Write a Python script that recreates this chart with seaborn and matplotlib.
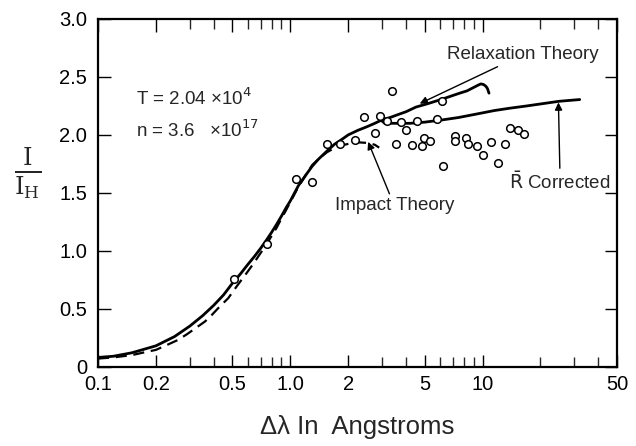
import numpy as np
import pandas as pd
import matplotlib
matplotlib.use('Agg')
import matplotlib.pyplot as plt
from matplotlib import font_manager
import seaborn as sns

# solid curve up to the split, continuing as the relaxation-theory branch
relax_x = [0.1, 0.12, 0.15, 0.2, 0.25, 0.3, 0.35, 0.4, 0.45, 0.5, 0.55, 0.6, 0.65,
           0.7, 0.75, 0.8, 0.85, 0.9, 0.95, 1.0, 1.1, 1.2, 1.3, 1.4, 1.55, 1.7, 1.85,
           2.0, 2.25, 2.5, 2.75, 3.0, 3.3, 3.7, 4.0, 4.5, 5.2, 6.2, 7.0, 7.6, 8.3,
           9.0, 9.5, 9.8, 10.1, 10.4, 10.6, 10.8]
relax_y = [0.08, 0.09, 0.12, 0.18, 0.26, 0.35, 0.44, 0.53, 0.62, 0.72, 0.80, 0.88,
           0.95, 1.02, 1.09, 1.16, 1.23, 1.30, 1.37, 1.43, 1.56, 1.65, 1.73, 1.79,
           1.86, 1.92, 1.96, 2.00, 2.04, 2.07, 2.10, 2.13, 2.15, 2.18, 2.20, 2.24,
           2.27, 2.31, 2.34, 2.36, 2.38, 2.41, 2.43, 2.44, 2.435, 2.42, 2.40, 2.36]

# R-bar corrected branch
rcorr_x = [3.0, 3.1, 3.5, 4.2, 5.0, 6.2, 7.5, 9.3, 11.5, 13.8, 17.0, 20.6, 25.0, 32.0]
rcorr_y = [2.12, 2.10, 2.10, 2.10, 2.11, 2.13, 2.15, 2.18, 2.21, 2.23, 2.25, 2.27,
           2.29, 2.305]

# impact theory (dashed)
impact_x = [0.1, 0.12, 0.15, 0.17, 0.2, 0.23, 0.26, 0.29, 0.32, 0.36, 0.39, 0.43,
            0.475, 0.53, 0.6, 0.65, 0.7, 0.75, 0.8, 0.85, 0.9, 0.95, 1.0, 1.1, 1.2,
            1.3, 1.42, 1.55, 1.67, 1.85, 2.1, 2.3, 2.55, 2.75, 2.9]
impact_y = [0.07, 0.08, 0.10, 0.12, 0.145, 0.19, 0.23, 0.28, 0.33, 0.39, 0.445, 0.52,
            0.59, 0.70, 0.82, 0.90, 0.98, 1.05, 1.13, 1.20, 1.28, 1.35, 1.42, 1.55,
            1.65, 1.74, 1.80, 1.85, 1.88, 1.91, 1.93, 1.935, 1.93, 1.915, 1.89]

# measured points
obs_x = [0.51, 0.76, 1.07, 1.30, 1.56, 1.81, 2.17, 2.42, 2.75, 2.94, 3.20, 3.38, 3.56,
         3.78, 4.00, 4.31, 4.58, 4.82, 4.94, 5.32, 5.79, 6.15, 6.19, 7.21, 7.21, 8.18,
         8.43, 9.31, 10.1, 11.0, 12.0, 13.1, 13.9, 15.2, 16.5]
obs_y = [0.76, 1.06, 1.62, 1.595, 1.92, 1.92, 1.96, 2.155, 2.02, 2.16, 2.12, 2.38, 1.92,
         2.11, 2.04, 1.91, 2.12, 1.90, 1.97, 1.95, 2.14, 2.29, 1.73, 1.99, 1.95, 1.97,
         1.92, 1.90, 1.83, 1.94, 1.76, 1.92, 2.06, 2.04, 2.01]

xtick_vals = [0.1, 0.2, 0.5, 1.0, 2, 5, 10, 50]
xtick_labels = ['0.1', '0.2', '0.5', '1.0', '2', '5', '10', '50']
ytick_vals = [0, 0.5, 1.0, 1.5, 2.0, 2.5, 3.0]
ytick_labels = ['0', '0.5', '1.0', '1.5', '2.0', '2.5', '3.0']

sns.set_style('ticks')
plt.rcParams['font.family'] = ['Liberation Sans', 'DejaVu Sans']

installed = {f.name for f in font_manager.fontManager.ttflist}
if 'Liberation Sans Narrow' in installed:
    tick_font = {'family': 'Liberation Sans Narrow', 'size': 15.5}
else:
    tick_font = {'family': 'Liberation Sans', 'size': 14.5}

fig = plt.figure(figsize=(6.36, 4.46), dpi=100)
ax = fig.add_axes([0.1541, 0.1778, 0.8160, 0.7796])

sns.lineplot(x=relax_x, y=relax_y, ax=ax, color='black', lw=2.0,
             estimator=None, sort=False)
sns.lineplot(x=rcorr_x, y=rcorr_y, ax=ax, color='black', lw=2.0,
             estimator=None, sort=False)
sns.lineplot(x=impact_x, y=impact_y, ax=ax, color='black', lw=1.6,
             estimator=None, sort=False, linestyle=(0, (5, 3)))
sns.scatterplot(x=obs_x, y=obs_y, ax=ax, marker='o', s=30, facecolor='white',
                edgecolor='black', linewidth=1.1, zorder=3)

ax.set_xscale('log')
ax.set_xlim(0.1, 50)
ax.set_ylim(0, 3.0)

ax.set_xticks(xtick_vals)
ax.set_xticklabels(xtick_labels, fontdict=tick_font)
ax.set_yticks(ytick_vals)
ax.set_yticklabels(ytick_labels, fontdict=tick_font)
ax.tick_params(axis='both', which='major', direction='in', length=9, width=1.0,
               top=True, right=True, colors='black')
ax.tick_params(axis='x', which='major', pad=6)
ax.tick_params(axis='y', which='major', pad=8)
ax.tick_params(axis='x', which='minor', direction='in', length=7, width=1.0,
               top=True)
for sp in ax.spines.values():
    sp.set_visible(True)
    sp.set_linewidth(1.6)
    sp.set_color('black')

ax.set_xlabel('Δλ In  Angstroms', fontsize=18.5, labelpad=15)
fig.text(28 / 636, 1 - 173 / 446, r'$\frac{\mathrm{I}}{\mathrm{I}_{\mathrm{H}}}$',
         fontsize=25, math_fontfamily='dejavuserif', ha='center', va='center')

ax.text(0.158, 2.32, 'T = 2.04 ×10$^{4}$', fontsize=13.5, va='center')
ax.text(0.158, 2.04, 'n = 3.6   ×10$^{17}$', fontsize=13.5, va='center')

arrow = dict(arrowstyle='-|>', color='black', lw=1.0, mutation_scale=11,
             shrinkA=0, shrinkB=0)
ax.annotate('Relaxation Theory', xy=(4.71, 2.27), xytext=(6.5, 2.69),
            fontsize=13.5, va='center', ha='left', arrowprops=arrow)
ax.annotate(r'$\bar{\mathrm{R}}$ Corrected', xy=(24.8, 2.28), xytext=(13.8, 1.59),
            fontsize=13.5, va='center', ha='left', arrowprops=arrow)
ax.annotate('Impact Theory', xy=(2.54, 1.94), xytext=(1.70, 1.39),
            fontsize=13.5, va='center', ha='left', arrowprops=arrow)

fig.savefig('out.png', dpi=100)
